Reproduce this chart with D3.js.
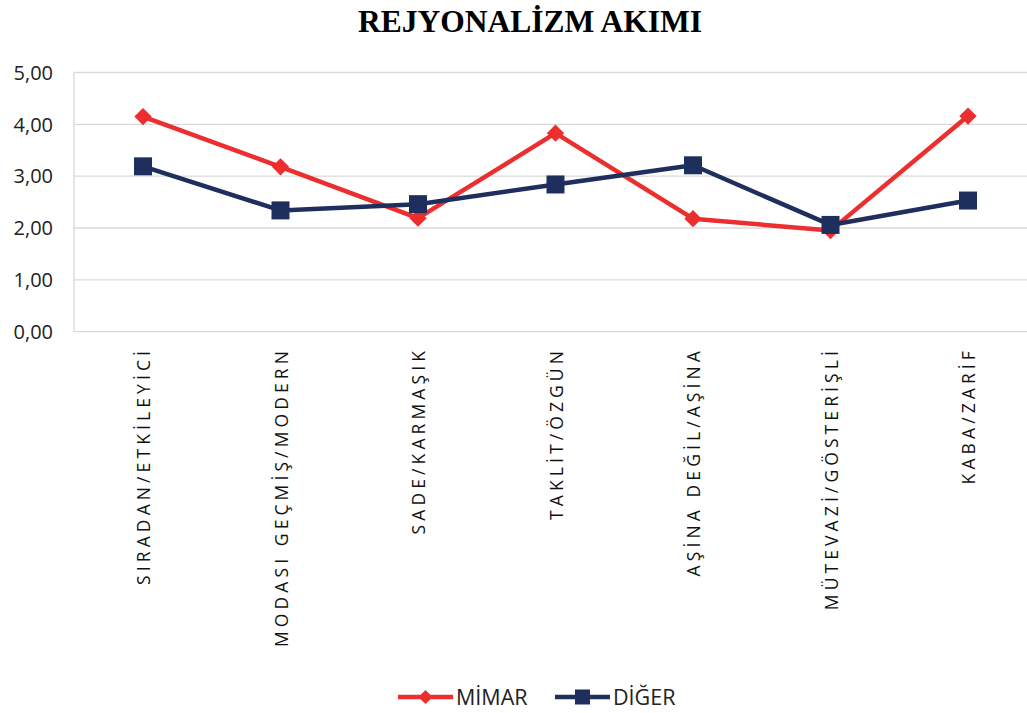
<!DOCTYPE html>
<html><head><meta charset="utf-8">
<script src="https://cdn.jsdelivr.net/npm/d3@7"></script>
<style>body{margin:0;background:#fff}</style>
</head><body>
<svg id="c" width="1027" height="713"></svg>
<script>
const title = "REJYONALİZM AKIMI";
const categories = ["SIRADAN/ETKİLEYİCİ","MODASI GEÇMİŞ/MODERN","SADE/KARMAŞIK","TAKLİT/ÖZGÜN","AŞİNA DEĞİL/AŞİNA","MÜTEVAZİ/GÖSTERİŞLİ","KABA/ZARİF"];
const mimar = [4.15, 3.18, 2.19, 3.83, 2.18, 1.95, 4.16];
const diger = [3.19, 2.34, 2.46, 2.84, 3.21, 2.06, 2.53];
const seriesNames = ["MİMAR","DİĞER"];
const yTicks = [0,1,2,3,4,5];

const svg = d3.select("#c");
const red = "#EC2E2E", navy = "#1E2F5E";
const x = d3.scalePoint().domain(categories).range([143, 968]);
const y = d3.scaleLinear().domain([0,5]).range([331.7, 72.5]);
const left = 74, right = 1040;

svg.append("text").attr("x", 530).attr("y", 32).attr("text-anchor","middle")
  .attr("font-family","'Liberation Serif','Times New Roman',serif").attr("font-weight","bold")
  .attr("font-size", 31.5).attr("fill","#000").text(title);

svg.append("g").selectAll("line").data(yTicks).join("line")
  .attr("x1", left).attr("x2", right).attr("y1", d=>y(d)).attr("y2", d=>y(d))
  .attr("stroke","#d9d9d9").attr("stroke-width",1.3);
svg.append("line").attr("x1",left).attr("x2",left).attr("y1",y(5)).attr("y2",y(0))
  .attr("stroke","#d9d9d9").attr("stroke-width",1.3);

const fmt = d => d.toFixed(2).replace(".", ",");
svg.append("g").selectAll("text").data(yTicks).join("text")
  .attr("x", 53).attr("y", d=>y(d)).attr("dy","0.36em").attr("text-anchor","end")
  .attr("font-family","'Open Sans',sans-serif").attr("font-size",20).attr("fill","#222")
  .text(fmt);

svg.append("g").selectAll("text").data(categories).join("text")
  .attr("transform", d=>`translate(${x(d)+1},347) rotate(-90)`)
  .attr("text-anchor","end").attr("dy","0.36em")
  .attr("font-family","'Open Sans',sans-serif").attr("font-size",17.5)
  .attr("letter-spacing", 4.1).attr("fill","#111").text(d=>d);

const line = d3.line().x((d,i)=>x(categories[i])).y(d=>y(d));
function drawSeries(vals, color, shape){
  svg.append("path").datum(vals).attr("d", line).attr("fill","none")
    .attr("stroke", color).attr("stroke-width",4.5).attr("stroke-linejoin","round");
  const g = svg.append("g");
  vals.forEach((v,i)=>{
    const cx = x(categories[i]), cy = y(v);
    if(shape==="diamond"){
      g.append("path").attr("d", d3.symbol(d3.symbolSquare, 150)())
        .attr("transform",`translate(${cx},${cy}) rotate(45)`).attr("fill",color);
    } else {
      g.append("rect").attr("x",cx-9).attr("y",cy-9).attr("width",18).attr("height",18).attr("fill",color);
    }
  });
}
drawSeries(mimar, red, "diamond");
drawSeries(diger, navy, "square");

const lg = svg.append("g");
const legendItems = [{name:seriesNames[0], color:red, shape:"diamond", x0:398},{name:seriesNames[1], color:navy, shape:"square", x0:555}];
legendItems.forEach(it=>{
  lg.append("line").attr("x1",it.x0).attr("x2",it.x0+55).attr("y1",697).attr("y2",697)
    .attr("stroke",it.color).attr("stroke-width",4.5);
  const cx = it.x0+27.5;
  if(it.shape==="diamond"){
    lg.append("path").attr("d", d3.symbol(d3.symbolSquare, 100)()).attr("transform",`translate(${cx},697) rotate(45)`).attr("fill",it.color);
  } else {
    lg.append("rect").attr("x",cx-7.5).attr("y",697-7.5).attr("width",15).attr("height",15).attr("fill",it.color);
  }
  lg.append("text").attr("x",it.x0+58).attr("y",697).attr("dy","0.36em")
    .attr("font-family","'Open Sans',sans-serif").attr("font-size",21.5).attr("fill","#222").text(it.name);
});
</script>
</body></html>
